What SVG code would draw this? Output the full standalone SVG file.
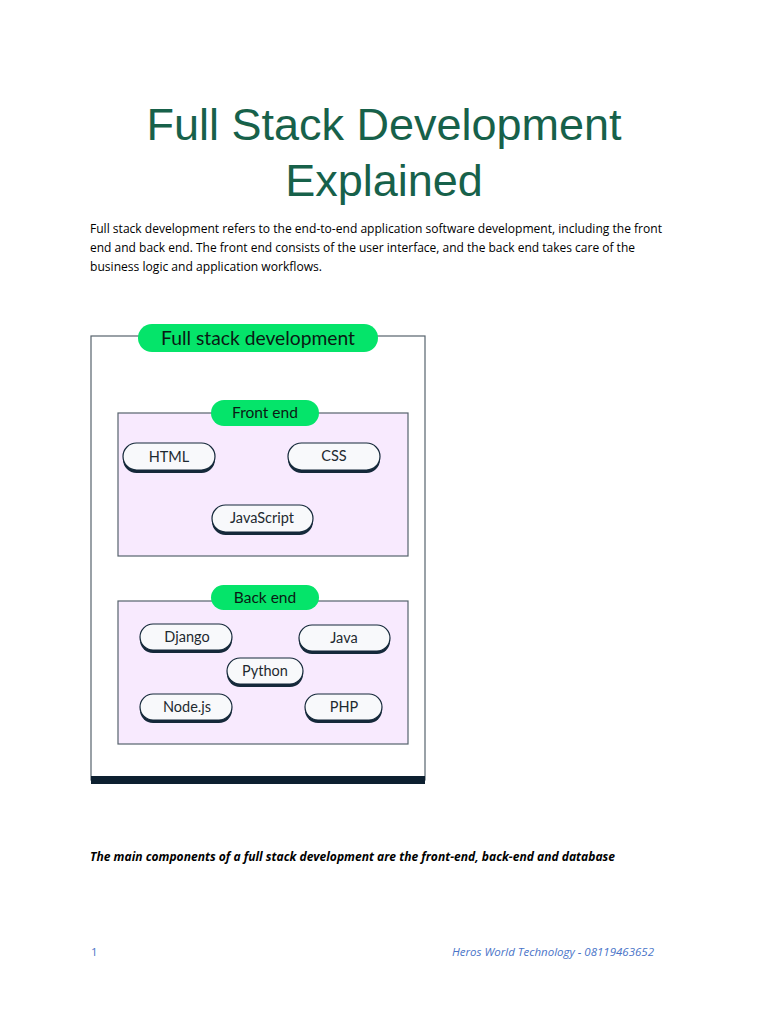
<svg xmlns="http://www.w3.org/2000/svg" width="768" height="1024" viewBox="0 0 768 1024">
<style>
.title{font-family:"Liberation Sans",Arial,sans-serif;font-size:45px;fill:#17614a;text-anchor:middle}
.body{font-family:"Open Sans","Liberation Sans",sans-serif;font-size:12.5px;fill:#000}
.green{fill:#05e46a}
.gl{font-family:"Lato","Noto Sans",sans-serif;fill:#0a1a14;text-anchor:middle}
.box{fill:#f8eafe;stroke:#56636d;stroke-width:1.2}
.sh{fill:#15293a}
.pill{fill:#f8f9fb;stroke:#15293a;stroke-width:1.2}
.pl{font-family:"Lato","Noto Sans",sans-serif;font-size:14.5px;fill:#1e2a30;text-anchor:middle}
.foot{font-family:"Open Sans","Liberation Sans",sans-serif;font-size:11.5px;fill:#4a74c8}
</style>
<rect width="768" height="1024" fill="#fff"/>
<text class="title" x="384" y="140">Full Stack Development</text>
<text class="title" x="384" y="196">Explained</text>
<text class="body" x="90" y="233" textLength="572" lengthAdjust="spacingAndGlyphs">Full stack development refers to the end-to-end application software development, including the front</text>
<text class="body" x="90" y="252" textLength="545" lengthAdjust="spacingAndGlyphs">end and back end. The front end consists of the user interface, and the back end takes care of the</text>
<text class="body" x="90" y="271" textLength="232" lengthAdjust="spacingAndGlyphs">business logic and application workflows.</text>

<g id="outer">
<rect x="91" y="336" width="334" height="444" fill="#fff" stroke="#56636d" stroke-width="1.2"/>
<rect x="91" y="776" width="334" height="8" fill="#0d2030"/>
</g>
<g id="full-stack">
<rect class="green" x="138" y="324" width="240" height="28" rx="14"/>
<text class="gl" x="258" y="345" font-size="19" textLength="194" lengthAdjust="spacingAndGlyphs">Full stack development</text>
</g>

<g id="front-end">
<rect class="box" x="118" y="413" width="290" height="143"/>
<rect class="green" x="211" y="400" width="108" height="26" rx="13"/>
<text class="gl" x="265" y="418" font-size="15.5">Front end</text>
</g>
<g id="html"><rect class="sh" x="123" y="446" width="92" height="27" rx="13.5"/><rect class="pill" x="123" y="443" width="92" height="27" rx="13.5"/><text class="pl" x="169" y="462">HTML</text></g>
<g id="css"><rect class="sh" x="288" y="446" width="92" height="27" rx="13.5"/><rect class="pill" x="288" y="443" width="92" height="27" rx="13.5"/><text class="pl" x="334" y="461">CSS</text></g>
<g id="javascript"><rect class="sh" x="212" y="508" width="101" height="27" rx="13.5"/><rect class="pill" x="212" y="505" width="101" height="27" rx="13.5"/><text class="pl" x="262" y="523">JavaScript</text></g>

<g id="back-end">
<rect class="box" x="118" y="601" width="290" height="143"/>
<rect class="green" x="211" y="585" width="108" height="25" rx="12.5"/>
<text class="gl" x="265" y="603" font-size="15.5">Back end</text>
</g>
<g id="django"><rect class="sh" x="140" y="627" width="92" height="26" rx="13"/><rect class="pill" x="140" y="624" width="92" height="26" rx="13"/><text class="pl" x="187" y="642">Django</text></g>
<g id="java"><rect class="sh" x="299" y="628" width="91" height="26" rx="13"/><rect class="pill" x="299" y="625" width="91" height="26" rx="13"/><text class="pl" x="344" y="643">Java</text></g>
<g id="python"><rect class="sh" x="227" y="661" width="76" height="26" rx="13"/><rect class="pill" x="227" y="658" width="76" height="26" rx="13"/><text class="pl" x="265" y="676">Python</text></g>
<g id="nodejs"><rect class="sh" x="140" y="697" width="92" height="26" rx="13"/><rect class="pill" x="140" y="694" width="92" height="26" rx="13"/><text class="pl" x="187" y="712">Node.js</text></g>
<g id="php"><rect class="sh" x="305" y="697" width="77" height="26" rx="13"/><rect class="pill" x="305" y="694" width="77" height="26" rx="13"/><text class="pl" x="344" y="712">PHP</text></g>

<g id="connectors"></g>

<text class="body" x="90" y="861" font-style="italic" font-weight="bold" textLength="525" lengthAdjust="spacingAndGlyphs">The main components of a full stack development are the front-end, back-end and database</text>
<text class="foot" x="91" y="956">1</text>
<text class="foot" x="654" y="956" font-style="italic" text-anchor="end" textLength="202" lengthAdjust="spacingAndGlyphs">Heros World Technology - 08119463652</text>
</svg>
